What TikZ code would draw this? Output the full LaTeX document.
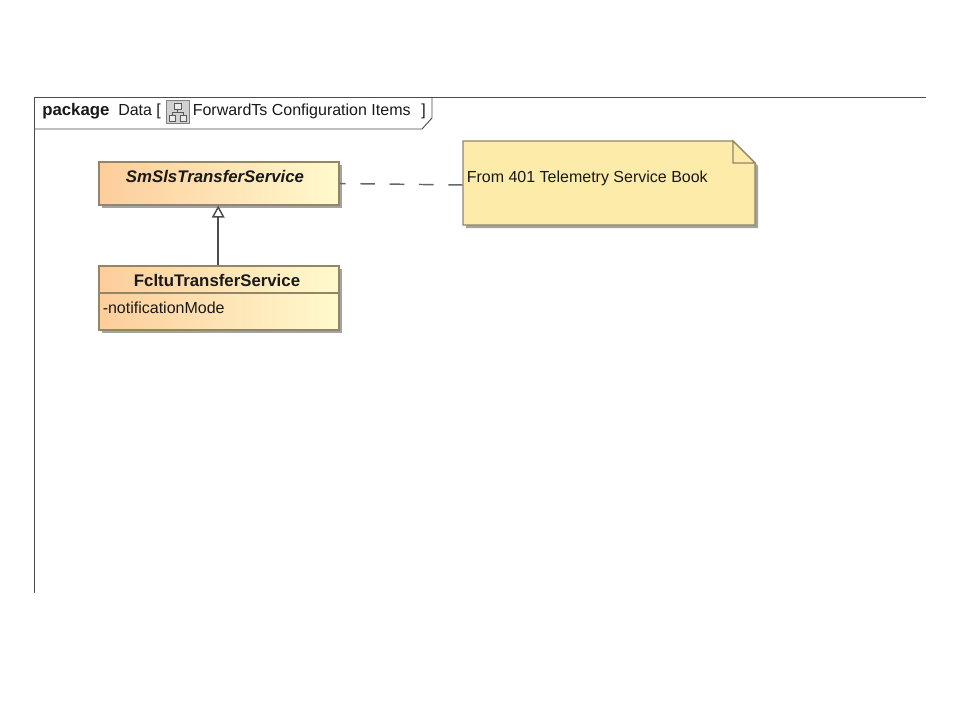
\documentclass[tikz,border=0pt]{standalone}
\usepackage{fontspec}
\setmainfont{Liberation Sans}
\usetikzlibrary{arrows.meta, shadows}

\tikzset{
  frameline/.style={draw=black!70, line width=0.7pt},
  classbox/.style={draw=classedge, line width=0.9pt, left color=classleft, right color=classright,
    minimum width=180pt, inner sep=0pt, drop shadow={shadow xshift=2.4pt, shadow yshift=-2.4pt, fill=black!45, opacity=0.8}},
  notebody/.style={draw=classedge, line width=0.9pt, fill=notefill},
  label/.style={inner sep=0pt, text=black!90, font=\fontsize{12}{14}\selectfont},
  boldlabel/.style={label, font=\fontsize{12.6}{14}\selectfont\bfseries},
  iconline/.style={draw=black!65, line width=0.45pt},
}
\definecolor{classedge}{RGB}{145,135,103}
\definecolor{classleft}{RGB}{253,205,155}
\definecolor{classright}{RGB}{255,250,205}
\definecolor{notefill}{RGB}{253,235,170}

\begin{document}
\begin{tikzpicture}[x=0.75pt, y=-0.75pt]
    \useasboundingbox [fill=white] (0, 0) rectangle (960, 720);
    % frame and tab
    \draw [frameline]   (34, 593) -- (34, 97) -- (926, 97);
    \draw [frameline]   (34, 129) -- (422, 129) -- (432, 118) -- (432, 97);
    \node [boldlabel, anchor=west] (kind) at (42, 111) {package};
    \node [label, anchor=west] (pkgname) at (118, 111) {Data [};
    \node [label, anchor=west] (diagname) at (192.5, 111) {ForwardTs Configuration Items};
    \node [label, anchor=west] (closing) at (421, 111) {]};
    % diagram icon
    \node [draw=black!50, fill=black!18, minimum width=17pt, minimum height=17pt, inner sep=0pt] (icon) at (177.5, 112) {};
    \draw [iconline, fill=black!8] (174, 103) rectangle (181, 109);
    \draw [iconline, fill=black!8] (169, 115) rectangle (175, 121);
    \draw [iconline, fill=black!8] (180, 115) rectangle (186, 121);
    \draw [iconline] (177.5, 109) -- (177.5, 112) (172, 115) -- (172, 112) -- (183, 112) -- (183, 115);
    % SmSls
    \node [classbox, minimum height=32.25pt] (smsls) at (219, 183.5) {};
    \node [boldlabel, font=\fontsize{12.6}{14}\selectfont\bfseries\itshape, anchor=center] (smslsname) at (215, 176.5) {SmSlsTransferService};
    % Fcltu
    \node [classbox, minimum height=48pt] (fcltu) at (219, 298) {};
    \draw [draw=classedge, line width=0.9pt] (fcltu.west |- 0, 293) -- (fcltu.east |- 0, 293);
    \node [boldlabel, anchor=center] (fcltuname) at (217, 280.5) {FcltuTransferService};
    \node [label, anchor=west] (notifmode) at (102.5, 308) {-notificationMode};
    % note
    \coordinate (notefold) at (733, 141);
    \coordinate (notecorner) at (755, 163);
    \draw [notebody, drop shadow={shadow xshift=2.4pt, shadow yshift=-2.4pt, fill=black!45, opacity=0.8}]
        (463, 141) -- (notefold) -- (notecorner) -- (755, 225) -- (463, 225) -- cycle;
    \draw [notebody] (notefold) -- (733, 163) -- (notecorner) -- cycle;
    \node [minimum width=219pt, minimum height=63pt, inner sep=0pt] (note) at (609, 183) {};
    \node [label, anchor=west] (notetext) at (466.5, 178) {From 401 Telemetry Service Book};
    % connectors
    \draw [dash pattern=on 11pt off 11pt, dash phase=6.5pt, draw=black!60, line width=1.1pt]
        (smsls.east) -- ([yshift=-1.5pt]note.west);
    \draw [-{Triangle[open, fill=white, length=9pt, width=9.5pt]}, draw=black!70, line width=1.1pt]
        ([xshift=-0.6pt]fcltu.north) -- ([xshift=-0.6pt]smsls.south);
\end{tikzpicture}
\end{document}
